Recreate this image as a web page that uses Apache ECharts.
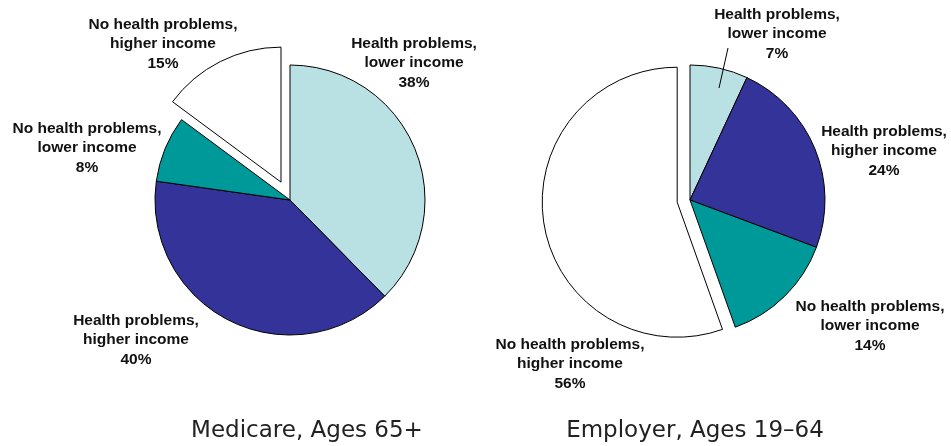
<!DOCTYPE html>
<html>
<head>
<meta charset="utf-8">
<script src="https://cdn.jsdelivr.net/npm/echarts@6/dist/echarts.min.js"></script>
<style>html,body{margin:0;padding:0;background:#fff}#c{width:951px;height:446px}</style>
</head>
<body>
<div id="c"></div>
<script>
// Data
const categories = ["Health problems,\nlower income", "Health problems,\nhigher income", "No health problems,\nlower income", "No health problems,\nhigher income"];
const medicareValues = [38, 40, 8, 15];
const employerValues = [7, 24, 14, 56];
const chartTitles = ["Medicare, Ages 65+", "Employer, Ages 19\u201364"];
const explodedIndex = 3;

// Layout (centre points of label blocks)
const labelPos = [
  [[414, 63], [136, 340], [87, 148], [163, 44]],
  [[777, 34], [884, 151], [870, 326], [570, 364]]
];
const colors = ["#b9e0e3", "#333399", "#009999", "#ffffff"];

function buildData(vals) {
  return vals.map((v, i) => ({
    name: categories[i], value: v, selected: i === explodedIndex,
    itemStyle: { color: colors[i] }
  }));
}

function pieSeries(vals, center, offset) {
  return {
    type: 'pie',
    center: center,
    radius: 135,
    startAngle: 90,
    clockwise: true,
    selectedMode: 'single',
    selectedOffset: offset,
    animation: false,
    emphasis: { disabled: true },
    itemStyle: { borderColor: '#000', borderWidth: 1 },
    label: { show: false },
    labelLine: { show: false },
    data: buildData(vals)
  };
}

const labelTexts = [];
[medicareValues, employerValues].forEach((vals, s) => {
  vals.forEach((v, i) => {
    labelTexts.push({
      type: 'text',
      x: labelPos[s][i][0], y: labelPos[s][i][1],
      z: 100,
      style: {
        text: categories[i] + '\n' + v + '%',
        fontFamily: 'Liberation Sans, Arial, sans-serif',
        fontWeight: 'bold',
        fontSize: 15.5,
        lineHeight: 19.5,
        fill: '#111',
        align: 'center',
        verticalAlign: 'middle'
      }
    });
  });
});

const chart = echarts.init(document.getElementById('c'), null, { renderer: 'canvas' });
chart.setOption({
  backgroundColor: '#fff',
  animation: false,
  title: [
    { text: chartTitles[0], left: 302, top: 415, textAlign: 'center',
      textStyle: { fontFamily: 'DejaVu Sans', fontWeight: 'normal', fontSize: 23, color: '#222' } },
    { text: chartTitles[1], left: 690, top: 415, textAlign: 'center',
      textStyle: { fontFamily: 'DejaVu Sans', fontWeight: 'normal', fontSize: 23, color: '#222' } }
  ],
  series: [
    pieSeries(medicareValues, [290, 200], 20),
    pieSeries(employerValues, [690, 200], 13)
  ],
  graphic: labelTexts.concat([
    { type: 'line', shape: { x1: 719, y1: 88, x2: 728, y2: 48 }, style: { stroke: '#000', lineWidth: 1 }, z: 100 }
  ])
});
</script>
</body>
</html>
